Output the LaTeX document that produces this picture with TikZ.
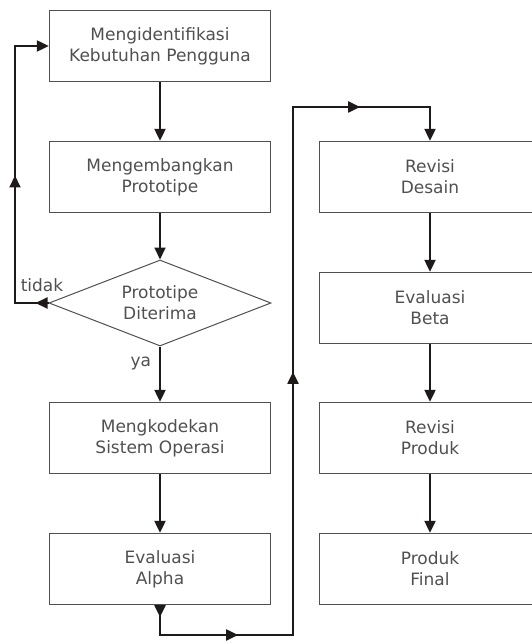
\documentclass[tikz,border=0pt]{standalone}
\usepackage{fontspec}
\setmainfont{DejaVu Sans}
\usepackage{tikz}
\usetikzlibrary{arrows.meta, shapes.geometric, decorations.markings}
\definecolor{boxgray}{HTML}{505050}
\definecolor{txtgray}{HTML}{505050}
\definecolor{flowblack}{HTML}{1E1A1A}

\begin{document}
\begin{tikzpicture}[x=1pt, y=-1pt,
    flowtip/.tip={Triangle[length=12pt, width=11pt]},
    stepbox/.style={draw=boxgray, line width=1.3pt, minimum width=221pt, minimum height=71pt,
        align=center, text=txtgray, font=\fontsize{17}{21}\selectfont},
    decision/.style={diamond, aspect=2.58, draw=boxgray, line width=1pt, minimum width=222pt, minimum height=86pt,
        inner sep=0pt, align=center, text=txtgray, font=\fontsize{17}{21}\selectfont},
    lbl/.style={text=txtgray, font=\fontsize{17}{21}\selectfont, inner sep=0pt},
    flow/.style={draw=flowblack, line width=2pt, -flowtip},
    tipat/.style={postaction={decorate, decoration={markings, mark=at position #1 with {\arrow{flowtip}}}}}
]
    \useasboundingbox (0,0) rectangle (531,644);

    % left column
    \node[stepbox] (ident) at (160,46) {Mengidentifikasi\\Kebutuhan Pengguna};
    \node[stepbox] (proto) at (160,177) {Mengembangkan\\Prototipe};
    \node[decision] (terima) at (160,303) {Prototipe\\Diterima};
    \node[stepbox] (kode) at (160,438) {Mengkodekan\\Sistem Operasi};
    \node[stepbox] (alpha) at (160,569) {Evaluasi\\Alpha};

    % right column
    \node[stepbox] (desain) at (430,177) {Revisi\\Desain};
    \node[stepbox] (beta) at (430,308) {Evaluasi\\Beta};
    \node[stepbox] (produk) at (430,438) {Revisi\\Produk};
    \node[stepbox] (final) at (430,569) {Produk\\Final};

    \draw[flow] (ident) -- (proto);
    \draw[flow] (proto) -- (terima);
    \draw[flow] (terima) -- node[lbl, pos=0.3, left=8pt] (ya) {ya} (kode);
    \draw[flow] (kode) -- (alpha);
    \draw[flow] (desain) -- (beta);
    \draw[flow] (beta) -- (produk);
    \draw[flow] (produk) -- (final);

    % loop back when the prototype is rejected
    \coordinate (fbbot) at (15,303);
    \coordinate (fbtop) at (15,46);
    \draw[flow, tipat=13pt, tipat=161pt] (terima.west) -- (fbbot) -- (fbtop) -- (ident.west);
    \node[lbl] (tidak) at (42,285) {tidak};

    % from alpha over to the right column
    \coordinate (a1) at (160,635);
    \coordinate (a2) at (293,635);
    \coordinate (a3) at (293,107);
    \coordinate (a4) at (430,107);
    \draw[flow, tipat=12pt, tipat=108pt, tipat=426pt, tipat=758pt]
        (alpha.south) -- (a1) -- (a2) -- (a3) -- (a4) -- (desain.north);
\end{tikzpicture}
\end{document}
